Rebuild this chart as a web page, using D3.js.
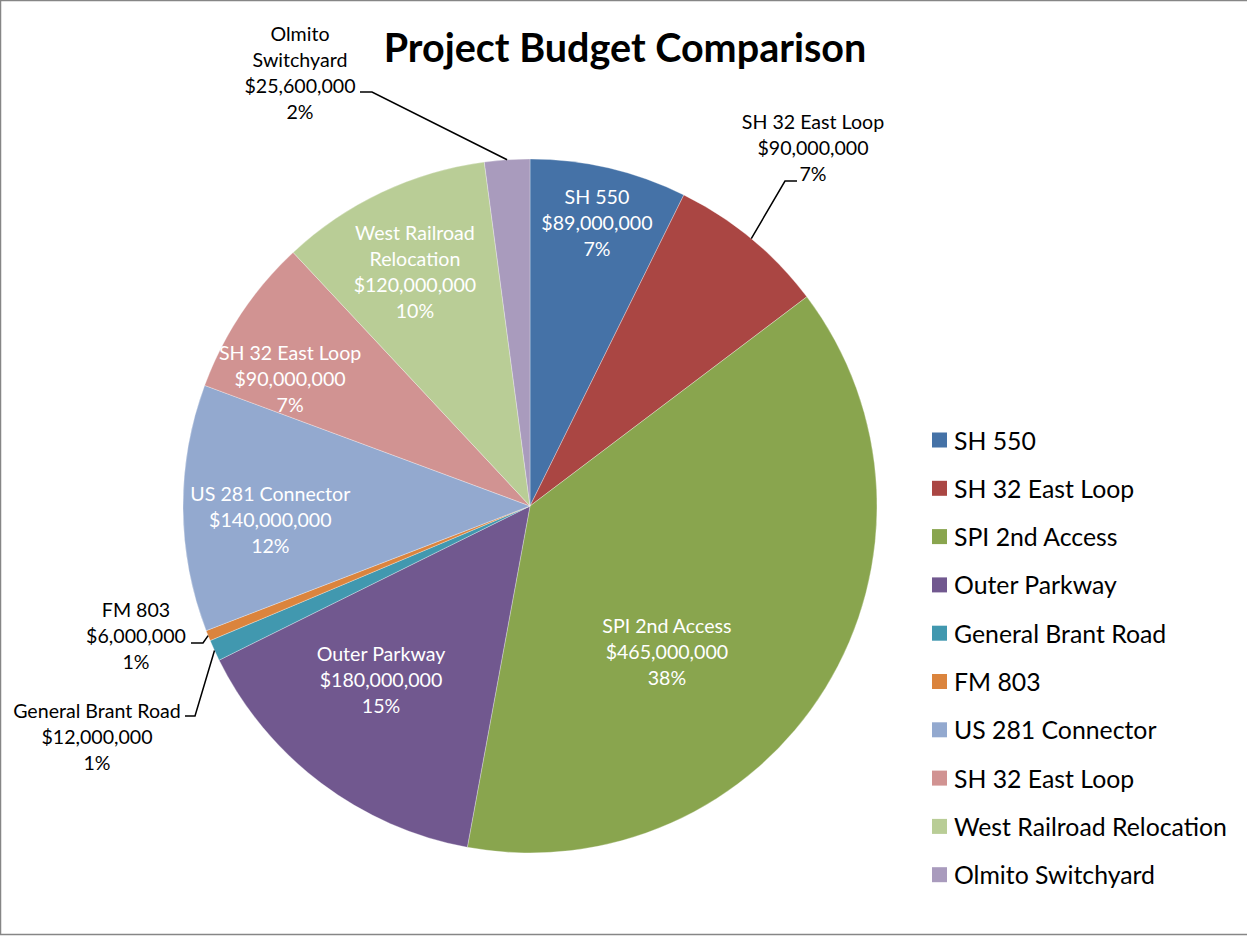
<!DOCTYPE html>
<html>
<head>
<meta charset="utf-8">
<script src="https://cdn.jsdelivr.net/npm/d3@7"></script>
<style>
  body { margin: 0; background: #fff; }
  svg { display: block; font-family: Lato, "Open Sans", sans-serif; }
</style>
</head>
<body>
<div id="chart"></div>
<script>
// data
var categories = ["SH 550", "SH 32 East Loop", "SPI 2nd Access", "Outer Parkway", "General Brant Road",
                  "FM 803", "US 281 Connector", "SH 32 East Loop", "West Railroad Relocation", "Olmito Switchyard"];
var budgets = [89000000, 90000000, 465000000, 180000000, 12000000, 6000000, 140000000, 90000000, 120000000, 25600000];
var colors = ["#4572A7", "#AA4643", "#89A54E", "#71588F", "#4198AF", "#DB843D", "#93A9CF", "#D19392", "#B9CD96", "#A99BBD"];
var titleText = "Project Budget Comparison";

// how the data labels were laid out (wrapping + placement)
var labelWrap = [null, null, null, null, null, null, null, null, ["West Railroad", "Relocation"], ["Olmito", "Switchyard"]];
// inside labels: [angle deg, radius px] from pie centre; outside: text block + leader kink
var labelPlace = [
  {inside: [13.3, 291]},
  {outside: {x: 813, y: 121, kink: [785, 181], end: [797, 181]}},
  {inside: [136.8, 200]},
  {inside: [220.6, 229]},
  {outside: {x: 97, y: 710, kink: [195, 716], end: [185, 716]}},
  {outside: {x: 136, y: 609, kink: [203, 643], end: [191, 643]}},
  {inside: [267.1, 260]},
  {inside: [297.9, 271.5]},
  {inside: [333.9, 261.6]},
  {outside: {x: 300, y: 33, kink: [372, 92], end: [360, 92]}}
];

var width = 1247, height = 936;
var cx = 530, cy = 506, radius = 347;
var lineH = 26;
var labelSize = 19.6;

var svg = d3.select("#chart").append("svg")
    .attr("width", width)
    .attr("height", height)

// chart border
svg.append("rect")
    .attr("x", 0.5).attr("y", 0.5)
    .attr("width", width + 10).attr("height", height - 2)
    .attr("fill", "#fff")
    .attr("stroke", "#868686")
    .attr("stroke-width", 1.5)

svg.append("text")
    .attr("x", 625)
    .attr("y", 62)
    .attr("text-anchor", "middle")
    .attr("font-size", 39.5)
    .attr("font-weight", "bold")
    .attr("fill", "#000")
    .text(titleText)

var data = categories.map(function(c, i){ return {name: c, value: budgets[i], idx: i} })
var total = d3.sum(budgets)

// percentages rounded so they add to 100 (largest remainder)
var raw = budgets.map(function(v){ return v / total * 100 })
var pct = raw.map(Math.floor)
var left = 100 - d3.sum(pct)
d3.range(raw.length)
    .sort(function(a, b){ return (raw[b] - pct[b]) - (raw[a] - pct[a]) })
    .slice(0, left)
    .forEach(function(i){ pct[i] += 1 })

var pie = d3.pie().sort(null).value(function(d){ return d.value })
var arc = d3.arc().innerRadius(0).outerRadius(radius)
var arcs = pie(data)

var g = svg.append("g").attr("transform", "translate(" + cx + "," + cy + ")")

g.selectAll(".slice")
    .data(arcs).enter().append("path")
        .attr("class", "slice")
        .attr("d", arc)
        .attr("fill", function(d){ return colors[d.data.idx] })
        .attr("stroke", "#fff")
        .attr("stroke-width", 0.6)
        .attr("stroke-opacity", 0.5)

var fmtMoney = d3.format("$,")

function labelLines(d){
    var i = d.data.idx
    var names = labelWrap[i] || [d.data.name]
    return names.concat([fmtMoney(d.data.value), pct[i] + "%"])
}

function polar(deg, r){
    var a = deg * Math.PI / 180
    return [r * Math.sin(a), -r * Math.cos(a)]
}

// data labels
arcs.forEach(function(d){
    var place = labelPlace[d.data.idx]
    var lines = labelLines(d)
    if(place.inside){
        var p = polar(place.inside[0], place.inside[1])
        var y0 = p[1] - (lines.length - 1) / 2 * lineH
        var t = g.append("text")
            .attr("text-anchor", "middle")
            .attr("font-size", labelSize)
            .attr("fill", "#fff")
        lines.forEach(function(s, k){
            t.append("tspan")
                .attr("x", p[0])
                .attr("y", y0 + k * lineH)
                .attr("dominant-baseline", "central")
                .text(s)
        })
    } else {
        var o = place.outside
        var mid = (d.startAngle + d.endAngle) / 2 * 180 / Math.PI
        var edge = polar(mid, radius)
        svg.append("polyline")
            .attr("points", [[cx + edge[0], cy + edge[1]], o.kink, o.end].map(function(q){ return q.join(",") }).join(" "))
            .attr("fill", "none")
            .attr("stroke", "#000")
            .attr("stroke-width", 1.5)
        var t2 = svg.append("text")
            .attr("text-anchor", "middle")
            .attr("font-size", labelSize)
            .attr("fill", "#000")
        lines.forEach(function(s, k){
            t2.append("tspan")
                .attr("x", o.x)
                .attr("y", o.y + k * lineH)
                .attr("dominant-baseline", "central")
                .text(s)
        })
    }
})

// legend
var legend = svg.append("g").attr("transform", "translate(932,440)")
var item = legend.selectAll(".item")
    .data(data).enter().append("g")
        .attr("class", "item")
        .attr("transform", function(d, i){ return "translate(0," + (i * 48.3) + ")" })
item.append("rect")
    .attr("x", 0).attr("y", -7.5)
    .attr("width", 15).attr("height", 15)
    .attr("fill", function(d){ return colors[d.idx] })
item.append("text")
    .attr("x", 22)
    .attr("y", 0)
    .attr("dominant-baseline", "central")
    .attr("font-size", 24.8)
    .attr("fill", "#000")
    .text(function(d){ return d.name })
</script>
</body>
</html>
